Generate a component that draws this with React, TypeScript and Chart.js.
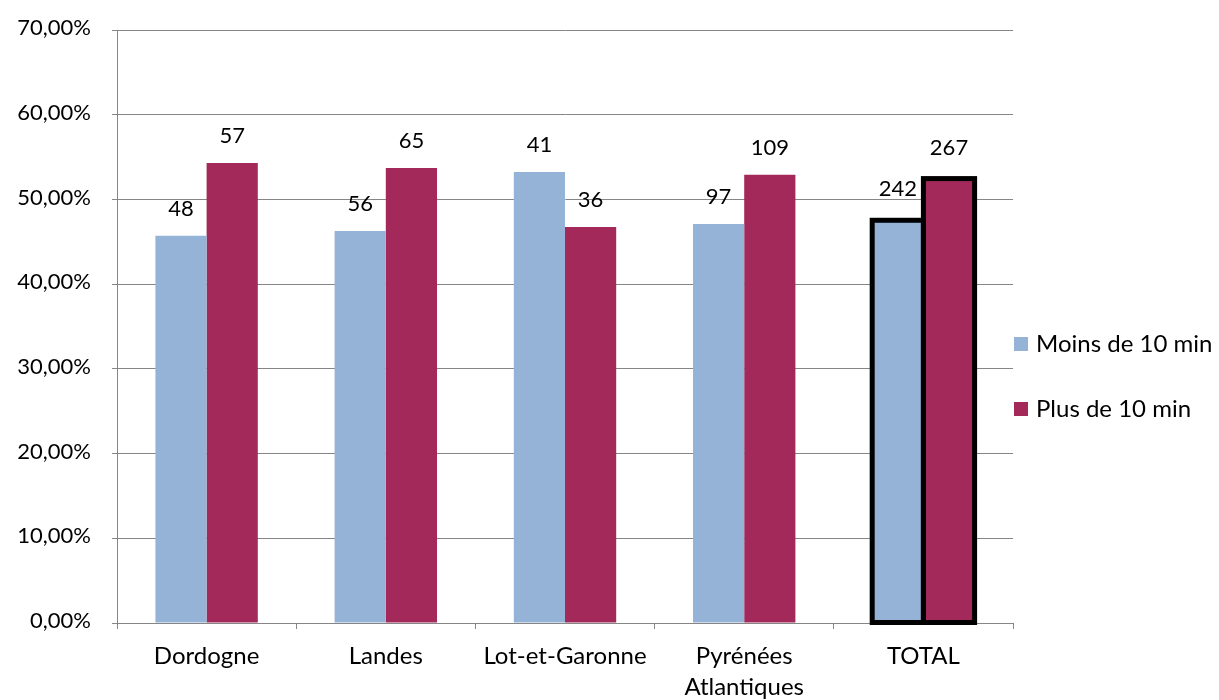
import React, { useEffect, useRef } from 'react';
import { Chart, registerables } from 'chart.js';

Chart.register(...registerables);

// ---- data ----
const categories: (string | string[])[] = ['Dordogne', 'Landes', 'Lot-et-Garonne', ['Pyrénées', 'Atlantiques'], 'TOTAL'];
const seriesNames = ['Moins de 10 min', 'Plus de 10 min'];
const moinsPct = [45.71, 46.28, 53.25, 47.09, 47.54];
const plusPct = [54.29, 53.72, 46.75, 52.91, 52.46];
const moinsCounts = [48, 56, 41, 97, 242];
const plusCounts = [57, 65, 36, 109, 267];
const yMin = 0;
const yMax = 70;
const yStep = 10;
const highlightedCategory = 'TOTAL';

// ---- style ----
const FONT = 'Lato';
const FS_NUM = 22;
const FS_TXT = 24;
const BLUE = '#95B3D7';
const RED = '#A2295A';
const GRID = '#868686';

const fmtPct = (v: number) => v.toFixed(2).replace('.', ',') + '%';

const highlightPlugin = {
  id: 'highlightBorder',
  afterDatasetsDraw(chart: any) {
    const ctx = chart.ctx;
    const idx = categories.indexOf(highlightedCategory);
    ctx.save();
    ctx.strokeStyle = '#000';
    ctx.lineWidth = 5;
    ctx.lineJoin = 'miter';
    chart.data.datasets.forEach((_: any, i: number) => {
      const bar = chart.getDatasetMeta(i).data[idx];
      if (!bar) return;
      const { x, y, base, width } = bar.getProps(['x', 'y', 'base', 'width'], true);
      ctx.strokeRect(x - width / 2, y, width, base - y);
    });
    ctx.restore();
  },
};

const labelPlugin = {
  id: 'countLabels',
  afterDatasetsDraw(chart: any) {
    const ctx = chart.ctx;
    const counts = [moinsCounts, plusCounts];
    const idx = categories.indexOf(highlightedCategory);
    ctx.save();
    ctx.font = `${FS_NUM}px ${FONT}`;
    ctx.fillStyle = '#000';
    ctx.textAlign = 'center';
    ctx.textBaseline = 'alphabetic';
    chart.data.datasets.forEach((_: any, i: number) => {
      chart.getDatasetMeta(i).data.forEach((bar: any, j: number) => {
        const { x, y } = bar.getProps(['x', 'y'], true);
        const extra = j === idx ? 4 : 0;
        ctx.fillText(String(counts[i][j]), x, y - 20 - extra);
      });
    });
    ctx.restore();
  },
};

const legendPlugin = {
  id: 'rightLegend',
  afterDraw(chart: any) {
    const ctx = chart.ctx;
    const area = chart.chartArea;
    ctx.save();
    ctx.font = `${FS_TXT}px ${FONT}`;
    ctx.textAlign = 'left';
    ctx.textBaseline = 'middle';
    chart.data.datasets.forEach((ds: any, i: number) => {
      const bx = area.right + 1;
      const by = 337 + i * 65;
      ctx.fillStyle = ds.backgroundColor;
      ctx.fillRect(bx, by, 14, 14);
      ctx.fillStyle = '#000';
      ctx.fillText(ds.label, bx + 22, by + 7);
    });
    ctx.restore();
  },
};

export default function App() {
  const ref = useRef<HTMLCanvasElement | null>(null);

  useEffect(() => {
    if (!ref.current) return;
    const chart = new Chart(ref.current, {
      type: 'bar',
      data: {
        labels: categories as any,
        datasets: [
          {
            label: seriesNames[0],
            data: moinsPct,
            backgroundColor: BLUE,
            borderWidth: 0,
            categoryPercentage: 2 / 3.5,
            barPercentage: 1,
          },
          {
            label: seriesNames[1],
            data: plusPct,
            backgroundColor: RED,
            borderWidth: 0,
            categoryPercentage: 2 / 3.5,
            barPercentage: 1,
          },
        ],
      },
      options: {
        responsive: false,
        animation: false,
        layout: { padding: { left: 0, top: 30, right: 206, bottom: 0 } },
        plugins: {
          legend: { display: false },
          tooltip: { enabled: false },
        },
        scales: {
          x: {
            afterFit: (s: any) => {
              s.height = 77;
            },
            ticks: {
              color: '#000',
              font: { family: FONT, size: FS_TXT, lineHeight: 31 / FS_TXT },
              padding: 12,
              maxRotation: 0,
              autoSkip: false,
            },
            grid: { drawOnChartArea: false, tickLength: 6, color: GRID, offset: true },
            border: { color: GRID },
          },
          y: {
            min: yMin,
            max: yMax,
            afterFit: (s: any) => {
              s.width = 117;
            },
            ticks: {
              stepSize: yStep,
              color: '#000',
              font: { family: FONT, size: FS_NUM, lineHeight: 0.7 },
              padding: 21,
              labelOffset: -2,
              callback: (v: any) => fmtPct(Number(v)),
            },
            grid: { color: GRID, tickLength: 5 },
            border: { color: GRID },
          },
        },
      },
      plugins: [highlightPlugin, labelPlugin, legendPlugin],
    });
    return () => chart.destroy();
  }, []);

  return (
    <div style={{ position: 'fixed', left: 0, top: 0, width: 1219, height: 700, background: '#fff' }}>
      <canvas ref={ref} width={1219} height={700} style={{ display: 'block' }} />
    </div>
  );
}
